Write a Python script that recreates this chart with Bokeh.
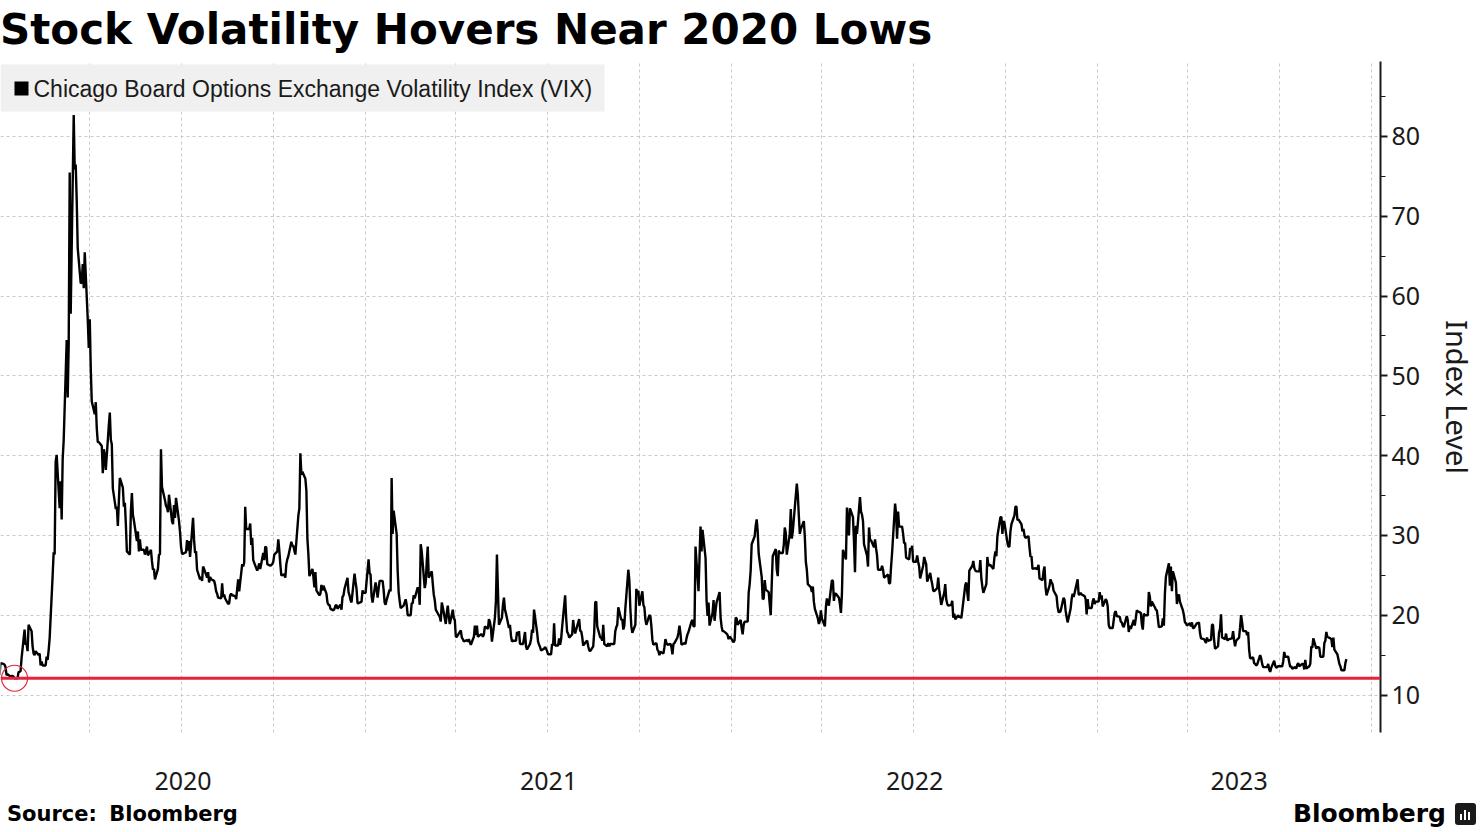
import pandas as pd
from bokeh.plotting import figure
from bokeh.layouts import column, row
from bokeh.models import (ColumnDataSource, Span, Div, Label, BoxAnnotation, Range1d,
                          FixedTicker, SingleIntervalTicker, CustomJSTickFormatter)
from bokeh.embed import file_html
from bokeh.resources import INLINE

title_text = "Stock Volatility Hovers Near 2020 Lows"
series_name = "Chicago Board Options Exchange Volatility Index (VIX)"
y_label = "Index Level"
source_text = "Source: Bloomberg"
brand_text = "Bloomberg"

# daily VIX closes (weekdays, market holidays repeat the previous close), one row per month
vix_2020 = [
    12.5, 14.0, 13.9, 13.8, 13.5, 12.5, 12.6, 12.3, 12.4, 12.4, 12.3, 12.1, 12.1, 12.9, 12.9, 13.0, 14.6, 18.2, 16.3, 16.4, 15.5, 18.8,
    18.0, 16.1, 15.2, 15.0, 15.5, 15.0, 15.2, 13.7, 14.2, 13.7, 13.7, 14.8, 14.4, 15.6, 17.1, 25.0, 27.9, 27.6, 39.2, 40.1,
    33.4, 36.8, 32.0, 39.6, 41.9, 54.5, 47.3, 53.9, 75.5, 57.8, 82.7, 75.9, 76.5, 72.0, 66.0, 61.6, 61.7, 64.0, 61.0, 65.5, 57.1, 53.5,
    57.1, 50.9, 46.8, 45.2, 46.7, 43.4, 41.7, 41.7, 41.2, 37.8, 40.8, 40.1, 38.2, 43.8, 45.4, 42.0, 41.4, 35.9, 33.3, 33.6, 31.2, 34.2,
    37.2, 36.0, 33.6, 34.1, 31.4, 28.0, 27.6, 33.0, 35.3, 32.6, 31.9, 29.3, 30.5, 28.0, 29.5, 28.2, 28.2, 27.6, 28.0, 28.6, 27.5,
    28.2, 26.8, 25.7, 25.8, 24.5, 25.8, 27.6, 27.6, 40.8, 36.1, 34.4, 33.7, 33.5, 32.9, 35.1, 31.8, 31.4, 33.8, 32.2, 34.7, 31.8, 30.4,
    28.6, 27.7, 27.7, 27.9, 29.4, 28.1, 29.3, 27.3, 32.2, 29.5, 27.8, 28.0, 25.7, 24.5, 24.8, 24.3, 26.1, 25.8, 24.7, 25.4, 24.1, 24.8, 24.5,
    24.3, 23.8, 23.0, 22.7, 22.2, 22.1, 24.0, 22.3, 22.6, 22.1, 21.4, 21.5, 22.5, 22.7, 22.5, 22.4, 22.0, 23.3, 24.5, 23.0, 26.4,
    26.1, 26.6, 33.6, 30.8, 30.8, 31.5, 28.8, 29.7, 26.9, 25.9, 25.6, 26.0, 26.5, 25.8, 27.8, 26.9, 28.6, 28.5, 26.4, 26.2, 26.3, 26.4,
    26.7, 27.6, 28.0, 29.5, 28.1, 26.4, 25.0, 25.1, 24.7, 26.4, 27.0, 27.4, 29.2, 28.7, 28.7, 28.1, 27.6, 32.5, 33.4, 40.3, 37.6, 38.0,
    37.1, 35.6, 29.6, 27.6, 24.9, 25.8, 24.8, 23.5, 25.4, 23.1, 22.5, 22.7, 23.8, 23.1, 23.7, 22.7, 21.6, 21.3, 21.3, 20.8, 20.6,
    20.8, 21.2, 21.3, 20.8, 21.3, 20.7, 22.3, 22.5, 23.3, 24.7, 22.9, 22.5, 21.9, 21.6, 25.2, 24.2, 23.3, 21.5, 21.5, 21.7, 23.1, 22.8, 22.8,
]
vix_2021 = [
    22.8, 27.0, 25.3, 25.1, 22.4, 21.6, 24.1, 23.3, 22.2, 23.3, 24.3, 24.3, 23.2, 21.6, 21.3, 21.9, 23.2, 23.0, 37.2, 30.2, 33.1,
    30.2, 25.6, 22.9, 21.8, 20.9, 21.2, 21.6, 22.0, 21.3, 20.0, 20.0, 21.5, 21.5, 22.5, 22.1, 23.5, 23.1, 21.3, 28.9, 28.0,
    23.4, 24.1, 26.7, 28.6, 24.7, 25.5, 24.0, 22.6, 21.9, 20.7, 20.0, 19.8, 19.2, 21.6, 21.0, 18.9, 20.3, 21.2, 19.8, 18.9, 20.7, 19.6, 19.4,
    17.3, 17.3, 17.9, 18.1, 17.2, 17.0, 16.7, 16.9, 16.7, 17.0, 16.6, 16.3, 17.3, 18.7, 17.5, 18.7, 17.3, 17.6, 17.6, 17.3, 17.6, 18.6,
    18.3, 19.5, 19.2, 18.4, 16.7, 19.7, 21.8, 27.6, 23.1, 18.8, 19.7, 21.3, 22.2, 20.7, 20.2, 18.4, 18.8, 17.4, 16.7, 16.8, 16.8,
    17.9, 17.5, 18.0, 16.4, 16.4, 17.1, 17.9, 16.1, 15.7, 16.4, 17.0, 18.2, 17.8, 20.7, 17.9, 16.7, 16.3, 16.0, 15.6, 15.8, 16.0, 15.8,
    15.5, 15.1, 15.1, 16.4, 16.2, 19.0, 16.2, 16.2, 17.1, 16.3, 17.0, 18.5, 22.5, 19.7, 17.9, 17.7, 17.2, 17.6, 19.4, 18.3, 17.7, 18.2,
    19.5, 18.0, 18.0, 17.3, 16.2, 16.7, 16.8, 16.1, 15.6, 15.5, 16.1, 17.9, 21.6, 21.7, 18.6, 17.2, 17.2, 16.8, 18.8, 16.4, 16.1, 16.5,
    16.1, 16.4, 16.4, 16.4, 18.0, 18.5, 18.8, 21.0, 19.4, 19.5, 18.2, 18.7, 20.8, 25.7, 24.4, 20.9, 18.6, 17.8, 18.8, 23.3, 22.6, 23.1,
    21.2, 23.0, 21.3, 21.0, 19.5, 18.8, 20.0, 19.9, 18.6, 16.9, 16.3, 16.5, 15.7, 15.5, 15.0, 15.4, 15.2, 16.0, 17.0, 16.5, 16.3,
    16.4, 16.0, 15.1, 16.4, 16.5, 17.2, 17.8, 18.7, 17.7, 16.3, 16.5, 16.4, 17.1, 17.6, 17.9, 19.2, 19.4, 18.6, 18.6, 28.6, 23.0, 27.2,
    31.1, 28.0, 30.7, 27.2, 21.9, 19.9, 21.6, 18.7, 20.3, 21.9, 19.3, 20.6, 21.6, 22.9, 19.7, 18.6, 18.0, 18.0, 17.7, 17.5, 17.0, 17.3, 17.2,
]
vix_2022 = [
    16.6, 16.9, 19.7, 19.6, 18.8, 19.4, 18.4, 17.6, 18.8, 19.2, 19.2, 22.8, 23.9, 25.6, 28.9, 29.9, 31.2, 32.0, 30.5, 27.7, 24.8,
    22.0, 22.1, 24.4, 23.2, 22.9, 21.4, 20.0, 23.9, 27.4, 28.3, 25.7, 24.9, 28.1, 27.8, 27.8, 28.8, 31.0, 30.3, 27.6, 30.2,
    33.3, 29.6, 30.5, 32.0, 36.5, 35.1, 32.5, 30.2, 30.8, 31.8, 29.8, 26.7, 25.7, 23.9, 23.5, 22.9, 23.6, 21.7, 20.8, 19.6, 18.9, 19.3, 20.6,
    19.6, 18.6, 21.0, 22.1, 21.6, 21.2, 24.4, 24.3, 21.8, 22.7, 22.7, 22.2, 21.4, 20.3, 22.7, 28.2, 27.0, 33.5, 31.6, 30.0, 33.4,
    32.3, 29.3, 25.4, 31.2, 30.2, 34.8, 33.0, 32.6, 31.8, 28.9, 27.5, 26.1, 31.0, 29.4, 29.4, 28.5, 29.5, 28.4, 27.5, 25.7, 25.7, 26.2,
    25.7, 24.7, 24.8, 25.1, 24.0, 24.0, 26.1, 27.8, 34.0, 32.7, 29.6, 33.0, 31.1, 31.1, 30.2, 29.0, 29.1, 27.2, 27.0, 28.4, 28.2, 28.7,
    26.7, 26.7, 27.5, 26.7, 26.1, 24.6, 26.2, 27.3, 26.8, 26.4, 24.2, 25.3, 24.5, 23.9, 23.1, 23.0, 23.4, 24.7, 23.2, 22.3, 21.3,
    22.8, 23.9, 22.0, 21.4, 21.2, 21.3, 21.8, 19.7, 20.2, 19.5, 20.0, 19.7, 19.9, 19.6, 20.6, 23.8, 24.1, 22.8, 21.8, 25.6, 26.2, 26.8, 25.9,
    25.6, 25.5, 25.5, 26.9, 24.6, 23.6, 22.8, 23.9, 27.3, 26.2, 26.3, 26.3, 25.8, 27.2, 28.0, 27.4, 29.9, 32.3, 32.3, 30.2, 31.8, 31.6,
    29.1, 28.6, 28.6, 30.5, 31.4, 32.5, 33.6, 33.6, 31.9, 32.0, 31.4, 30.5, 30.8, 30.0, 29.7, 29.9, 28.5, 27.3, 27.4, 25.8, 25.9,
    25.8, 25.9, 26.3, 24.6, 24.4, 25.5, 26.1, 23.5, 22.5, 23.7, 24.5, 24.1, 23.9, 23.1, 22.4, 21.1, 20.4, 20.4, 20.5, 22.2, 21.9, 20.6,
    19.8, 19.1, 20.8, 22.0, 22.7, 22.3, 22.8, 24.5, 22.6, 22.6, 22.8, 22.6, 22.4, 22.0, 20.1, 22.0, 20.9, 20.9, 21.7, 22.1, 21.4, 21.7,
]
vix_2023 = [
    21.7, 22.9, 22.0, 22.5, 21.1, 22.0, 21.8, 21.1, 18.8, 18.4, 18.4, 19.4, 20.3, 20.5, 19.9, 19.8, 19.2, 19.1, 18.7, 18.5, 19.9, 19.4,
    17.9, 18.7, 18.3, 19.4, 18.7, 19.6, 20.6, 20.5, 20.3, 18.9, 18.2, 20.2, 20.0, 20.0, 22.9, 22.3, 21.1, 21.7, 21.0, 20.7,
    20.6, 19.6, 18.5, 18.6, 19.6, 18.7, 22.6, 24.8, 26.5, 23.7, 26.1, 23.0, 25.5, 24.1, 21.4, 22.3, 22.6, 21.7, 20.6, 20.0, 19.1, 19.0, 18.7,
    19.0, 18.6, 19.1, 18.4, 18.4, 19.0, 19.0, 19.1, 17.8, 17.1, 17.0, 16.8, 16.5, 17.2, 16.8, 16.9, 18.8, 18.8, 17.0, 15.8,
    16.1, 17.8, 18.3, 20.1, 17.2, 17.0, 17.7, 16.9, 16.9, 17.0, 17.1, 18.0, 16.9, 16.1, 16.8, 17.2, 18.5, 20.0, 19.1, 18.0, 18.0, 17.5, 17.9,
    15.7, 14.6, 14.7, 14.0, 13.9, 13.7, 13.8, 15.0, 14.6, 13.9, 13.5, 13.5, 13.5, 13.9, 13.2, 12.9, 13.4, 14.3, 13.7, 13.4, 13.5, 13.6,
    13.6, 13.6, 14.2, 15.4, 14.8, 14.8, 14.1, 13.5, 13.6, 13.3, 13.5, 13.3, 13.8, 14.0, 13.6, 13.9, 13.9, 13.2, 14.4, 13.3, 13.6,
    13.9, 16.1, 15.9, 17.1, 15.8, 16.0, 16.0, 15.9, 14.8, 14.8, 16.5, 16.8, 17.9, 17.3, 17.1, 17.0, 16.0, 17.2, 15.7, 15.1, 14.5, 13.9, 13.6,
    13.1, 13.1, 14.0, 14.5,
]
first_days = ["2020-01-02", "2021-01-01", "2022-01-03", "2023-01-02"]
x_start, x_end = "2020-01-03", "2023-10-10"

RED = "#e3243b"
GRID = "#c9c9c9"
INK = "#1a1a1a"


def build_series():
    frames = []
    for first, vals in zip(first_days, [vix_2020, vix_2021, vix_2022, vix_2023]):
        frames.append(pd.DataFrame({"date": pd.bdate_range(first, periods=len(vals)), "vix": vals}))
    return pd.concat(frames, ignore_index=True)


def ms(ts):
    return pd.Timestamp(ts).value / 1e6


df = build_series()
src = ColumnDataSource(df)

p = figure(width=1480, height=735, x_axis_type="datetime", y_axis_location="right",
           x_range=Range1d(pd.Timestamp(x_start), pd.Timestamp(x_end)),
           y_range=Range1d(5.3, 89.4), title=None,
           toolbar_location=None, tools="", output_backend="svg",
           min_border_left=0, min_border_top=0, min_border_right=90, min_border_bottom=64)
p.outline_line_color = None
p.background_fill_color = "white"
p.border_fill_color = "white"

# grids: quarterly verticals, every 10 points horizontally
quarters = [ms(d) for d in pd.date_range("2020-01-01", x_end, freq="QS")]
p.xgrid.ticker = FixedTicker(ticks=quarters)
for g in (p.xgrid, p.ygrid):
    g.grid_line_color = GRID
    g.grid_line_dash = "3 3"
    g.grid_line_width = 1

# year labels centred on the visible part of each year
lo, hi = pd.Timestamp(x_start), pd.Timestamp(x_end)
year_ticks = []
for yr in range(lo.year, hi.year + 1):
    a = max(pd.Timestamp(f"{yr}-01-01"), lo)
    b = min(pd.Timestamp(f"{yr + 1}-01-01"), hi)
    year_ticks.append((ms(a) + ms(b)) / 2)
xa = p.xaxis[0]
xa.ticker = FixedTicker(ticks=year_ticks)
xa.formatter = CustomJSTickFormatter(code="return String(new Date(tick).getUTCFullYear())")
xa.axis_line_color = None
xa.major_tick_line_color = None
xa.minor_tick_line_color = None
xa.major_label_standoff = 33
xa.major_label_text_font = "Noto Sans"
xa.major_label_text_font_size = "25px"
xa.major_label_text_color = INK

ya = p.yaxis[0]
ya.ticker = SingleIntervalTicker(interval=10, num_minor_ticks=2)
ya.axis_line_color = INK
ya.axis_line_width = 2
ya.major_tick_in = 0
ya.major_tick_out = 7
ya.major_tick_line_width = 2
ya.major_tick_line_color = INK
ya.minor_tick_in = 0
ya.minor_tick_out = 5
ya.minor_tick_line_color = INK
ya.major_label_standoff = 4
ya.major_label_text_font = "Noto Sans"
ya.major_label_text_font_size = "25px"
ya.major_label_text_color = INK
ya.axis_label = y_label
ya.axis_label_text_font = "Noto Sans"
ya.axis_label_text_font_size = "29px"
ya.axis_label_text_font_style = "normal"
ya.axis_label_text_color = INK
ya.axis_label_standoff = 15

# the 2020 low and its marker
low_idx = df.loc[df.date.dt.year == 2020, "vix"].idxmin()
low_val = df.vix[low_idx]
p.add_layout(Span(location=low_val, dimension="width", line_color=RED, line_width=3))

p.line("date", "vix", source=src, line_color="black", line_width=2.4)
p.scatter([df.date[low_idx]], [low_val], size=26, fill_color=None,
          line_color=RED, line_width=1.2)

# legend panel in the top-left corner of the plot area (canvas pixels)
p.add_layout(BoxAnnotation(left=0, right=604, top=3, bottom=50,
                           left_units="canvas", right_units="canvas",
                           top_units="canvas", bottom_units="canvas",
                           fill_color="#f0f0f0", fill_alpha=1, line_color=None))
p.add_layout(BoxAnnotation(left=14, right=28, top=20, bottom=34,
                           left_units="canvas", right_units="canvas",
                           top_units="canvas", bottom_units="canvas",
                           fill_color="black", fill_alpha=1, line_color=None))
p.add_layout(Label(x=33, y=27, x_units="canvas", y_units="canvas", text=series_name,
                   text_font="Liberation Sans", text_font_size="23px", text_color=INK,
                   text_baseline="middle"))

title = Div(text=title_text, width=1476, height=61, margin=(0, 0, 0, 0),
            styles={"font-family": "DejaVu Sans", "font-weight": "bold", "font-size": "42px",
                    "line-height": "60px", "color": "black", "white-space": "nowrap"})
src_note = Div(text=source_text, width=738, height=34, margin=(0, 0, 0, 0),
               styles={"font-family": "DejaVu Sans", "font-weight": "bold", "font-size": "21px",
                       "line-height": "36px", "color": "black", "padding-left": "7px",
                       "word-spacing": "5px"})
icon = ('<span style="position:relative;display:inline-block;width:21px;height:22px;'
        'background:#1a1a1a;border-radius:3px;margin-left:9px;vertical-align:-3px">'
        '<span style="position:absolute;left:5px;bottom:5px;width:2px;height:6px;background:#fff"></span>'
        '<span style="position:absolute;left:9px;bottom:5px;width:2px;height:10px;background:#fff"></span>'
        '<span style="position:absolute;left:13px;bottom:5px;width:2px;height:8px;background:#fff"></span>'
        '</span>')
brand = Div(text=brand_text + icon, width=738, height=34, margin=(0, 0, 0, 0),
            styles={"font-family": "DejaVu Sans", "font-weight": "bold", "font-size": "25px",
                    "line-height": "36px", "color": "black", "text-align": "right"})

layout = column(title, p, row(src_note, brand, spacing=0), spacing=0)
open("out.html", "w").write(file_html(layout, INLINE))
